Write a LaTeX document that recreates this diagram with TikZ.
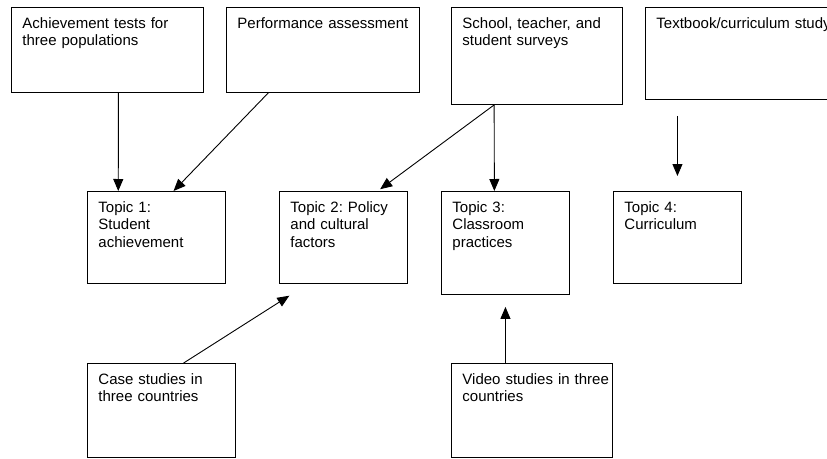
\documentclass[tikz,border=0pt]{standalone}
\usepackage{fontspec}
\setmainfont{Liberation Sans}
\usetikzlibrary{arrows.meta,calc}
\frenchspacing
\begin{document}
\begin{tikzpicture}[x=1pt, y=-1pt,
  box/.style={draw, line width=0.9pt, anchor=north west, align=left, inner xsep=11pt, inner ysep=0pt, text height=21pt, font=\fontsize{15}{17.5}\selectfont},
  arr/.style={-{Triangle[length=12pt,width=10pt]}, line width=0.9pt}]
\useasboundingbox (0,0) rectangle (827,458);
% sources
\node[box, text width=170pt, text depth=64pt] (ach) at (11,7) {Achievement tests for\\three populations};
\node[box, text width=171pt, text depth=64pt] (perf) at (226,7) {Performance assessment};
\node[box, text width=149pt, text depth=76pt] (surv) at (451,7) {School, teacher, and\\student surveys};
\node[box, text width=178pt, text depth=71pt] (text) at (645,7) {Textbook/curriculum study};
% topics
\node[box, text width=116pt, text depth=71pt] (top1) at (87,191) {Topic 1:\\Student\\achievement};
\node[box, text width=106pt, text depth=71pt] (top2) at (279,191) {Topic 2: Policy\\and cultural\\factors};
\node[box, text width=106pt, text depth=82pt] (top3) at (441,191) {Topic 3:\\Classroom\\practices};
\node[box, text width=106pt, text depth=71pt] (top4) at (613,191) {Topic 4:\\Curriculum};
% studies
\node[box, text width=126pt, text depth=73pt] (case) at (87,363) {Case studies in\\three countries};
\node[box, text width=139pt, text depth=73pt] (video) at (451,363) {\mbox{Video studies in three}\\countries};
\draw[arr] ($(ach.south west)!0.557!(ach.south east)$) -- ($(top1.north west)!0.225!(top1.north east)$);
\draw[arr] ($(perf.south west)!0.218!(perf.south east)$) -- ($(top1.north west)!0.623!(top1.north east)$);
\draw[arr, shorten >=3pt] ($(surv.south west)!0.251!(surv.south east)$) -- ($(top2.north west)!0.766!(top2.north east)$);
\draw[arr] ($(surv.south west)!0.251!(surv.south east)$) -- ($(top3.north west)!0.414!(top3.north east)$);
\draw[arr, shorten <=16pt, shorten >=15pt] (text.south -| top4.north) -- (top4.north);
\draw[arr, shorten >=22pt] ($(case.north west)!0.649!(case.north east)$) -- ($(top2.south west)!0.224!(top2.south east)$);
\draw[arr, shorten >=12pt] (top3.south |- video.north) -- (top3.south);
\end{tikzpicture}
\end{document}
